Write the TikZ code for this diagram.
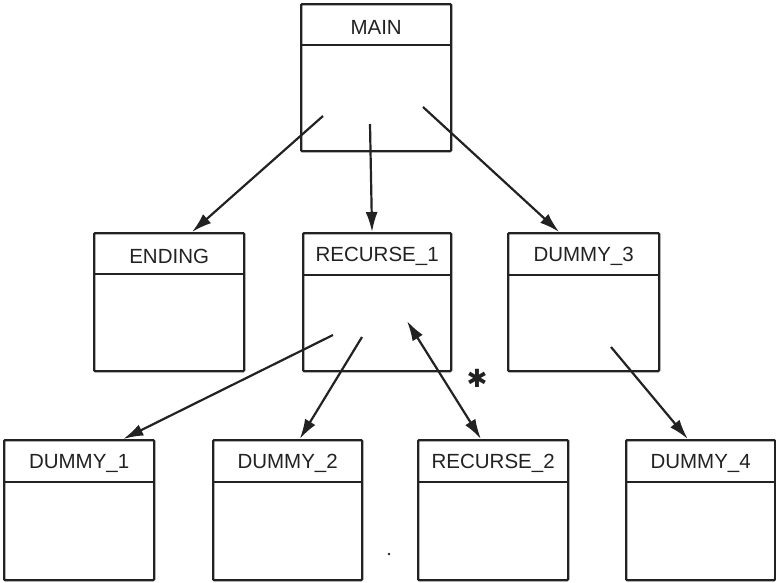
\documentclass[tikz,border=0pt]{standalone}
\usepackage{fontspec}
\setmainfont{Liberation Sans}
\newfontfamily\symfont{DejaVu Sans}
\usetikzlibrary{arrows.meta,calc}
\definecolor{ink}{HTML}{222222}
\tikzset{
  box/.style={draw=ink, line width=2.3pt, minimum height=#1, inner sep=0pt, anchor=north west, rounded corners=1pt},
  head/.style={anchor=north, minimum height=42pt, inner sep=0pt, text=ink, font=\fontsize{20.5}{24}\selectfont, yshift=-3pt},
  sepline/.style={draw=ink, line width=2.1pt},
  conn/.style={draw=ink, line width=2.2pt, -{Latex[length=20pt,width=12pt]}},
  dconn/.style={draw=ink, line width=2.2pt, {Latex[length=20pt,width=12pt]}-{Latex[length=20pt,width=12pt]}}
}
\begin{document}
\begin{tikzpicture}[x=1pt,y=-1pt]
\useasboundingbox (0,0) rectangle (776,582);
% boxes
\node[box=147pt, minimum width=150pt] (main) at (300,3) {};
\node[box=138pt, minimum width=150pt] (ending) at (93,232) {};
\node[box=138pt, minimum width=148pt] (rec1) at (302,232) {};
\node[box=138pt, minimum width=151pt] (dum3) at (507,232) {};
\node[box=140pt, minimum width=150pt] (dum1) at (3,439) {};
\node[box=140pt, minimum width=149pt] (dum2) at (212,439) {};
\node[box=140pt, minimum width=150pt] (rec2) at (417,439) {};
\node[box=140pt, minimum width=149pt] (dum4) at (625,439) {};
% header separators
\draw[sepline] ($(main.north west)+(0,42)$) -- ($(main.north east)+(0,42)$);
\draw[sepline] ($(ending.north west)+(0,42)$) -- ($(ending.north east)+(0,42)$);
\draw[sepline] ($(rec1.north west)+(0,43)$) -- ($(rec1.north east)+(0,43)$);
\draw[sepline] ($(dum3.north west)+(0,43)$) -- ($(dum3.north east)+(0,43)$);
\draw[sepline] ($(dum1.north west)+(0,43)$) -- ($(dum1.north east)+(0,43)$);
\draw[sepline] ($(dum2.north west)+(0,43)$) -- ($(dum2.north east)+(0,43)$);
\draw[sepline] ($(rec2.north west)+(0,43)$) -- ($(rec2.north east)+(0,43)$);
\draw[sepline] ($(dum4.north west)+(0,43)$) -- ($(dum4.north east)+(0,43)$);
% header texts
\node[head] (mainh) at (main.north) {MAIN};
\node[head] (endingh) at (ending.north) {ENDING};
\node[head] (rec1h) at (rec1.north) {RECURSE\_1};
\node[head] (dum3h) at (dum3.north) {DUMMY\_3};
\node[head] (dum1h) at (dum1.north) {DUMMY\_1};
\node[head] (dum2h) at (dum2.north) {DUMMY\_2};
\node[head] (rec2h) at (rec2.north) {RECURSE\_2};
\node[head] (dum4h) at (dum4.north) {DUMMY\_4};
% free ends of connectors
\coordinate (m1) at (323,116);
\coordinate (m2) at (370,124);
\coordinate (m3) at (423,107);
\coordinate (r1) at (333,335);
\coordinate (r2) at (362,337);
\coordinate (r3) at (407,321);
\coordinate (d3) at (611,347);
% connectors
\draw[conn] (m1) -- ($(ending.north west)!0.65!(ending.north east)$);
\draw[conn] (m2) -- ($(rec1.north west)!0.466!(rec1.north east)$);
\draw[conn] (m3) -- ($(dum3.north west)!0.34!(dum3.north east)$);
\draw[conn] (r1) -- ($(dum1.north west)!0.79!(dum1.north east)$);
\draw[conn] (r2) -- ($(dum2.north west)!0.58!(dum2.north east)$);
\draw[dconn] (r3) -- ($(rec2.north west)!0.42!(rec2.north east)$);
\draw[conn] (d3) -- ($(dum4.north west)!0.415!(dum4.north east)$);
% asterisk and dot
\node[text=ink, inner sep=0pt, font=\symfont\fontsize{25}{25}\selectfont] (star) at (477,378) {✱};
\fill[ink] (389,554) circle (1.4pt);
\end{tikzpicture}
\end{document}
